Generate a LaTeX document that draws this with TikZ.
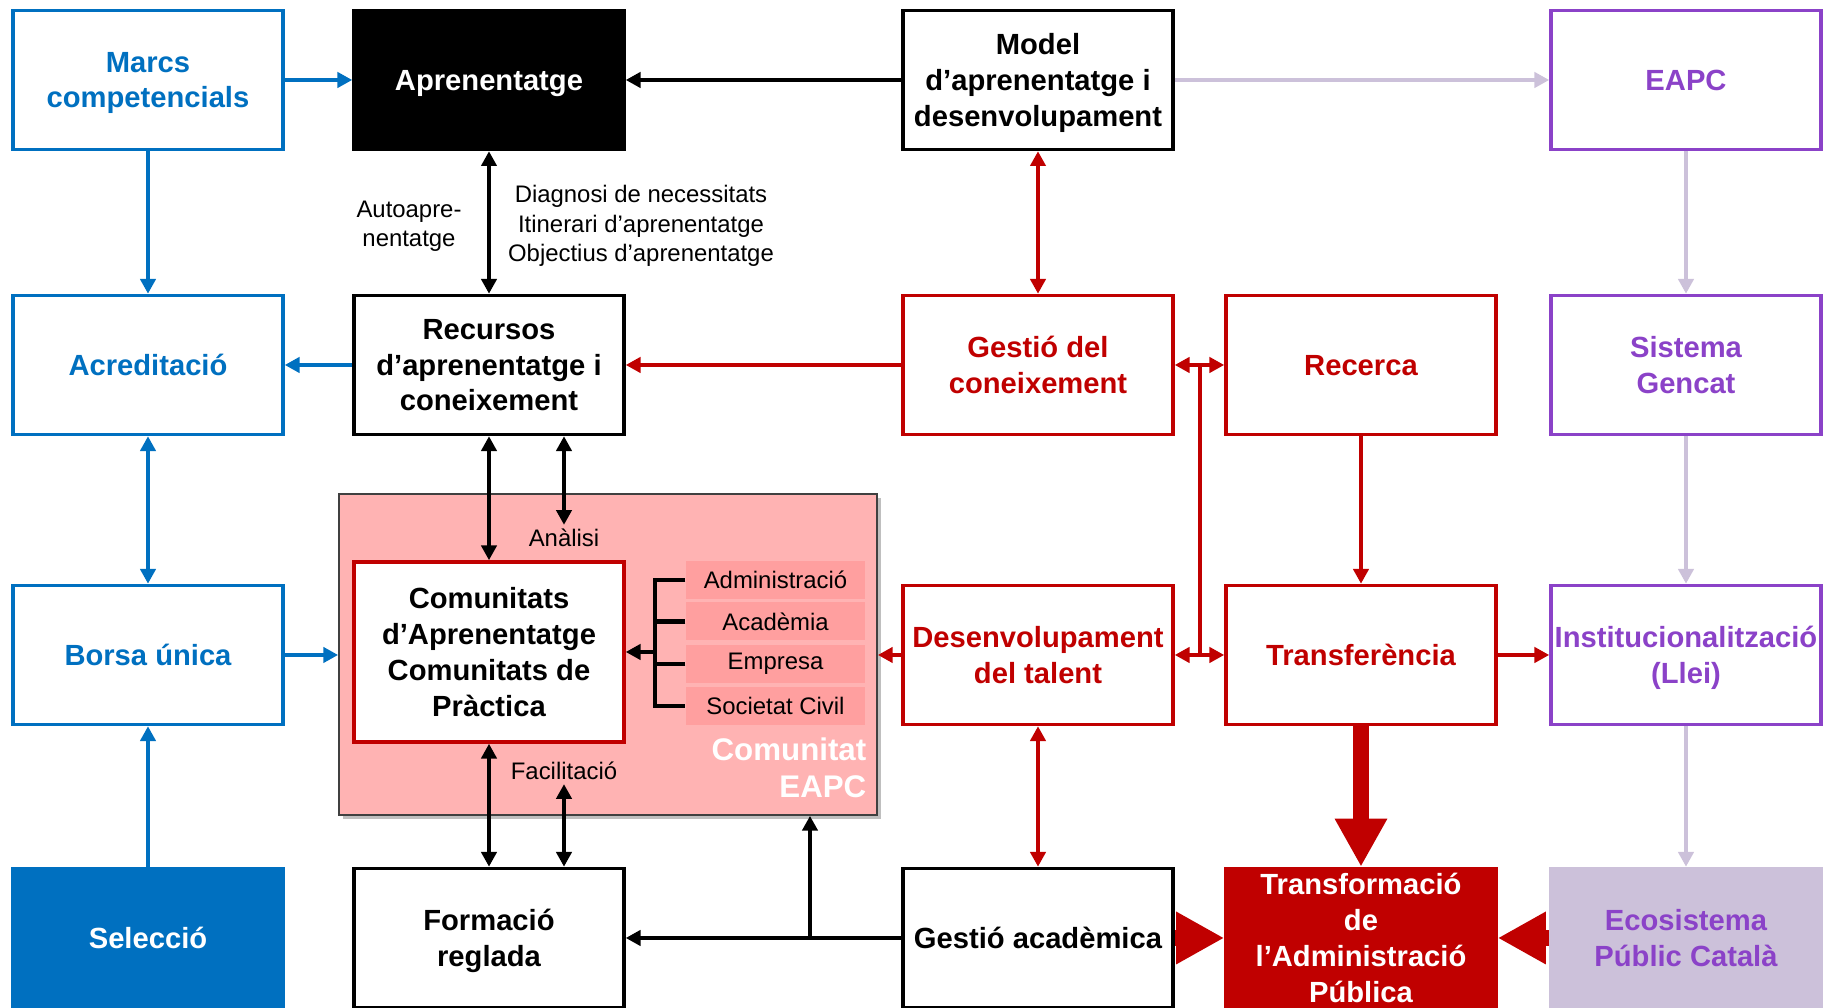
\documentclass[tikz,border=0pt]{standalone}
\usepackage{fontspec}
\setmainfont{Liberation Sans}
\usepackage{xcolor}
\usetikzlibrary{arrows.meta, positioning, shadows, calc}
\definecolor{eapcblue}{HTML}{0070C0}
\definecolor{eapcred}{HTML}{C00000}
\definecolor{eapcpurple}{HTML}{8B42C8}
\definecolor{eapclav}{HTML}{CCC1DA}
\definecolor{eapcpink}{HTML}{FFB3B3}
\definecolor{eapcsub}{HTML}{FF9F9F}

\begin{document}
\begin{tikzpicture}[
    >={Triangle[width=4.3pt,length=4.2pt]},
    box/.style={rectangle, draw, fill=white, line width=1pt, minimum width=2.70cm,
                minimum height=1.39cm, align=center, inner sep=1pt, text depth=0pt,
                font=\fontsize{8.3}{10.2}\selectfont\bfseries},
    bluebox/.style={box, draw=eapcblue, text=eapcblue},
    blackbox/.style={box, draw=black},
    redbox/.style={box, draw=eapcred, text=eapcred},
    purplebox/.style={box, draw=eapcpurple, text=eapcpurple},
    commbox/.style={rectangle, fill=eapcpink, draw=black!75, line width=0.5pt,
                    minimum width=5.38cm, minimum height=3.21cm,
                    drop shadow={shadow xshift=1.2pt, shadow yshift=-1.2pt,
                                 opacity=0.25, fill=black}},
    subbox/.style={rectangle, fill=eapcsub, minimum width=1.79cm,
                   minimum height=0.38cm, inner sep=0pt,
                   font=\fontsize{6.8}{8.3}\selectfont},
    lbl/.style={font=\fontsize{6.8}{8.3}\selectfont, align=center, inner sep=1pt},
    bluearr/.style={->, eapcblue, line width=1.3pt},
    blkarr/.style={->, black, line width=1.3pt},
    redarr/.style={->, eapcred, line width=1.1pt},
    lavarr/.style={->, eapclav, line width=1.4pt},
    bigarr/.style={-{Triangle[width=14pt,length=13.7pt]}, eapcred, line width=4.8pt}
  ]
    \useasboundingbox (0,0) rectangle (18.23,10.08);
    % Comunitat EAPC background (behind everything)
    \node[commbox] (comeapc) at (6.08, 3.535) {};
    \node[font=\fontsize{8.9}{10.6}\selectfont\bfseries, text=white, align=right,
          anchor=east, inner sep=0pt] (comtxt) at (8.67, 2.40) {Comunitat\\EAPC};
    % Column 1 (blue)
    \node[bluebox] (marcs) at (1.48, 9.28) {Marcs\\competencials};
    \node[bluebox] (acred) at (1.48, 6.43) {Acreditació};
    \node[bluebox] (borsa) at (1.48, 3.53) {Borsa única};
    \node[bluebox, fill=eapcblue, text=white] (selec) at (1.48, 0.70) {Selecció};
    % Column 2
    \node[blackbox, fill=black, text=white] (apren) at (4.89, 9.28) {Aprenentatge};
    \node[blackbox] (recur) at (4.89, 6.43) {Recursos\\d’aprenentatge i\\coneixement};
    \node[box, draw=eapcred, minimum height=1.80cm] (comun) at (4.89, 3.56)
      {Comunitats\\d’Aprenentatge\\Comunitats de\\Pràctica};
    \node[blackbox] (forma) at (4.89, 0.70) {Formació\\reglada};
    % Actors of the community
    \node[subbox] (admin) at (7.755, 4.28) {Administració};
    \node[subbox] (acade) at (7.755, 3.865) {Acadèmia};
    \node[subbox] (empre) at (7.755, 3.44) {Empresa};
    \node[subbox] (socie) at (7.755, 3.02) {Societat Civil};
    \coordinate (brkt) at (6.55, 3.56);
    % Labels on the links
    \node[lbl] (autoap) at (4.09, 7.82) {Autoapre-\\nentatge};
    \node[lbl] (diagn) at (6.41, 7.82)
      {Diagnosi de necessitats\\Itinerari d’aprenentatge\\Objectius d’aprenentatge};
    \node[lbl] (analisi) at (5.64, 4.70) {Anàlisi};
    \node[lbl] (facil) at (5.64, 2.37) {Facilitació};
    % Column 3
    \node[blackbox] (model) at (10.38, 9.28) {Model\\d’aprenentatge i\\desenvolupament};
    \node[redbox] (gcon) at (10.38, 6.43) {Gestió del\\coneixement};
    \node[redbox] (dtal) at (10.38, 3.53) {Desenvolupament\\del talent};
    \node[blackbox] (gacad) at (10.38, 0.70) {Gestió acadèmica};
    \coordinate (junc) at (8.10, 0.70);
    % Column 4
    \node[redbox] (recer) at (13.61, 6.43) {Recerca};
    \node[redbox] (transf) at (13.61, 3.53) {Transferència};
    \node[redbox, fill=eapcred, text=white, inner sep=0pt] (tadm) at (13.61, 0.70)
      {Transformació\\de\\l’Administració\\Pública};
    \coordinate (hbar) at (12.00, 0);
    % Column 5 (purple)
    \node[purplebox] (eapc) at (16.86, 9.28) {EAPC};
    \node[purplebox] (gencat) at (16.86, 6.43) {Sistema\\Gencat};
    \node[purplebox] (instit) at (16.86, 3.53) {Institucionalització\\(Llei)};
    \node[purplebox, draw=eapclav, fill=eapclav] (ecosis) at (16.86, 0.70)
      {Ecosistema\\Públic Català};
    % Blue arrows
    \draw[bluearr] (marcs) -- (apren);
    \draw[bluearr] (marcs) -- (acred);
    \draw[bluearr] (recur) -- (acred);
    \draw[bluearr, <->] (acred) -- (borsa);
    \draw[bluearr] (borsa.east) -- (borsa.east -| comeapc.west);
    \draw[bluearr] (selec) -- (borsa);
    % Black arrows
    \draw[blkarr] (model) -- (apren);
    \draw[blkarr, <->] (apren) -- (recur);
    \draw[blkarr, <->] (recur) -- (comun);
    \draw[blkarr, <->] (recur.south -| analisi) -- (analisi);
    \draw[blkarr, <->] (comun) -- (forma);
    \draw[blkarr, <->] (facil) -- (facil |- forma.north);
    \draw[blkarr] (gacad) -- (forma);
    \draw[blkarr] (junc) -- (junc |- comeapc.south);
    % Bracket of the actors
    \draw[black, line width=1.3pt] (admin.west) -| (brkt) |- (socie.west);
    \draw[black, line width=1.3pt] (acade.west) -- (acade.west -| brkt);
    \draw[black, line width=1.3pt] (empre.west) -- (empre.west -| brkt);
    \draw[blkarr] (brkt) -- (comun.east);
    % Red arrows
    \draw[redarr] (gcon) -- (recur);
    \draw[redarr, <->] (model) -- (gcon);
    \draw[redarr, <->] (gcon) -- (recer);
    \draw[redarr, <->] (dtal) -- (transf);
    \draw[eapcred, line width=1.1pt] (gcon.east -| hbar) -- (dtal.east -| hbar);
    \draw[redarr] (recer) -- (transf);
    \draw[redarr] (transf) -- (instit);
    \draw[redarr] (dtal.west) -- (dtal.west -| comeapc.east);
    \draw[redarr, <->] (dtal) -- (gacad);
    \draw[bigarr] (transf) -- (tadm);
    \draw[bigarr] (gacad) -- (tadm);
    \draw[bigarr] (ecosis) -- (tadm);
    % Lavender arrows
    \draw[lavarr] (model) -- (eapc);
    \draw[lavarr] (eapc) -- (gencat);
    \draw[lavarr] (gencat) -- (instit);
    \draw[lavarr] (instit) -- (ecosis);
  \end{tikzpicture}
\end{document}
